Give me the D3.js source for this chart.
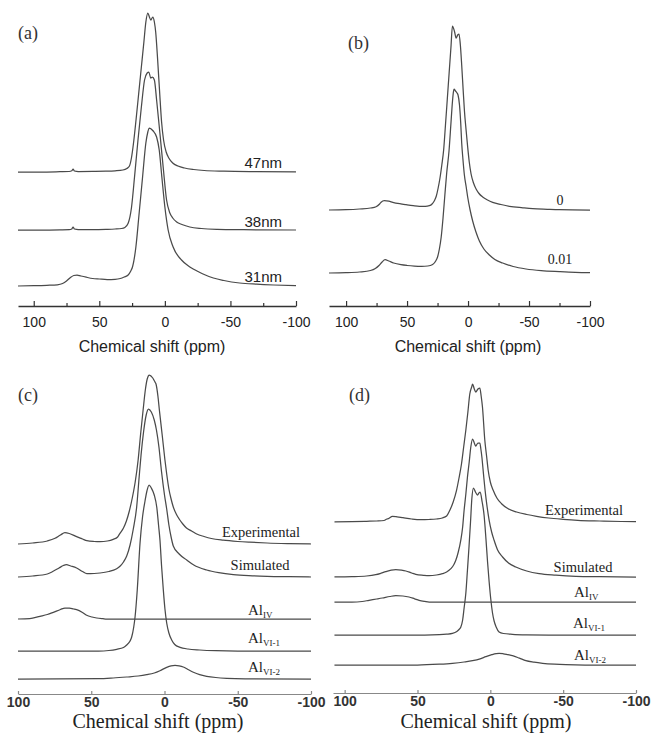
<!DOCTYPE html>
<html>
<head>
<meta charset="utf-8">
<script src="https://cdn.jsdelivr.net/npm/d3@7/dist/d3.min.js"></script>
<style>
  body { margin: 0; background: #fff; }
  svg { display: block; }
</style>
</head>
<body>
<svg id="chart" width="652" height="738"></svg>
<script>
  // ---- data: [ppm, intensity a.u.] ----
  var ppmTicks = [100, 50, 0, -50, -100];
  var ppmMinor = [75, 25, -25, -75];
  var axisTitle = 'Chemical shift (ppm)';

  // (a) crystallite size
  var namesA = ['47nm', '38nm', '31nm'];
  var offsetsA = [134, 76, 20];
  var a47 = [[112,0],[95,0],[80,0.3],[73,0.5],[71,1.2],[70,3],[69,1],[66,0.5],[55,0.6],[45,0.8],[38,1.2],[32,2],[29,3.5],[27,6],[25.5,14],[24,28],[22,52],[20,78],[18,104],[16,130],[14.5,150],[13,159],[11.8,155],[10.7,152],[9.2,155],[8,150],[7,140],[5.5,112],[4,80],[2.5,50],[1,32],[-1,20],[-3,14],[-6,9],[-10,6],[-15,4],[-22,2.5],[-30,1.5],[-45,0.8],[-70,0.3],[-100,0]];
  var a38 = [[112,0],[95,0],[80,0.2],[73,0.4],[71,1],[70,3],[69,1],[66,0.5],[55,0.5],[45,0.7],[38,1],[33,1.5],[30.5,2.5],[28,6.7],[25.5,22],[23,55],[20.5,90],[18,122],[15.5,150],[13.5,157],[12.2,158],[10.8,152],[9.5,153],[8,150],[6.3,130],[3.8,97],[1.3,63],[-1.3,30],[-3.8,17],[-6,12],[-9,8],[-13,5.5],[-19,3],[-28,1.5],[-40,0.7],[-60,0.3],[-100,0]];
  var a31 = [[112,0],[100,0.3],[90,0.7],[82,1.2],[78,2.5],[75,5],[72,8.5],[69.5,10.5],[67,11],[64,10],[60,8.8],[55,7.5],[50,7],[44,6.5],[38,6.7],[34,7.5],[31,9],[28,11],[26,15],[24.7,19],[22.1,39],[19.6,73],[17,109],[14.5,143],[13,154],[12,158],[10.5,157],[8.9,155],[6.3,149],[4.3,136],[2.3,109],[0,79],[-2.5,56],[-6.3,39],[-12.7,26],[-17,21],[-21.6,17],[-26,14],[-30,11.5],[-37,8],[-45,5.5],[-57,3],[-70,1.8],[-83,1],[-100,0.3]];

  // (b) doping
  var namesB = ['0', '0.01'];
  var offsetsB = [96, 33];
  var b0 = [[114,0],[100,0.3],[89,1],[80,2],[75.4,3.3],[72.5,6],[71.3,7.7],[68.6,9.3],[65,8.8],[61.7,7.7],[56,6.3],[50.8,5.3],[45,4.3],[39.9,3.7],[35,3.7],[31.7,4.3],[29.5,6],[27.6,9.3],[26,14],[24.5,22],[23,32],[21.5,45],[20,60],[18.5,85],[17,111],[15.5,137],[14,163],[12.8,184],[11,178],[9.8,172],[8.5,175],[7.4,176],[6.3,165],[5.2,145],[4,120],[3,100],[1.6,80],[0.3,63],[-1,48],[-2.5,36],[-4.5,27],[-6.6,21],[-9,16.5],[-12,13],[-16,10],[-20.2,7.7],[-27,5.5],[-33.9,3.7],[-45,2.2],[-53,1.3],[-65,0.7],[-75,0.3],[-100,0]];
  var b001 = [[114,0],[100,0.3],[89,1],[80,2.5],[76,4.5],[73,7.5],[70.5,11],[68,13.3],[65,12],[61,10],[55,8.3],[50,7.5],[44,6.9],[38,6.7],[33,7],[29,8.5],[26.5,12],[25,16],[23.5,24],[22,36],[20.5,55],[19,78],[17.5,100],[15.6,122],[14,150],[13,168],[12,181],[11.5,184],[10.3,182],[9,180],[8.2,178],[7,168],[6,150],[5.2,130],[4.2,114],[3,98],[1.5,86],[0.3,76],[-1.7,63],[-3.8,52],[-6.5,41],[-9.3,32],[-13,24],[-17.5,18],[-22,13.5],[-28.4,10],[-37,6.5],[-47.5,4],[-60,2.3],[-74.8,1.3],[-88,0.6],[-100,0.3]];

  // (c) fit, first sample
  var namesC = ['Experimental', 'Simulated', 'IV', 'VI-1', 'VI-2'];
  var offsetsC = [150, 117, 75, 43, 15];
  var cExp = [[100,0],[90,1],[80,3],[74.7,5.7],[71,9],[68,11.3],[65,10.5],[60,7.3],[56,5],[53,3.3],[48,2.5],[44,2.3],[39,3],[35,4.7],[32,7],[30.4,10.7],[28,16],[26,23],[24,33],[22,46],[20,62],[18,84],[16.3,110],[14.6,134],[13,155],[11.8,165],[10.4,169],[8,166],[6.5,162],[5.8,160],[4.5,148],[3.5,134],[1.5,108],[-0.3,84],[-1.5,70],[-3,55],[-4.5,45],[-6,37],[-8,30],[-10,25],[-12.5,20],[-15,16],[-18.5,13],[-22,10],[-27,7.5],[-32,5.5],[-40,3.8],[-50,2.5],[-58,1.8],[-70,1],[-85,0.4],[-100,0]];
  var cSim = [[100,0],[90,1],[80,3],[76,5.7],[72,9],[69,11.5],[67,12.3],[64,11],[60,9],[56,5.5],[53,3.3],[48,3.5],[44,4],[38,5.5],[33,8],[30.4,10.7],[28,15],[25.8,21],[23.5,32],[21.3,48],[19,70],[17.3,100],[16,122],[14.3,145],[12.5,162],[11,168],[9,165],[7,157],[5.5,147],[3.8,130],[2,105],[0,82],[-1.5,68],[-3,52],[-4.5,40],[-6,31],[-10,23],[-15.2,17],[-20,12],[-28.8,7],[-37,4.3],[-47,2.3],[-60,1.2],[-70,0.7],[-85,0.3],[-100,0]];
  var cIV = [[100,0],[92,0.3],[85,2.7],[80,4.5],[75.9,6.7],[71,9.5],[68,11],[65,10.8],[62,10],[60,9.3],[56,6.5],[53.1,3.7],[49.5,2],[46.3,1],[42,0.3],[39.5,0],[-100,0]];
  var cVI1 = [[100,0],[45,0],[38,0.5],[32.6,1.7],[28,3.5],[25.8,6],[23.5,10],[22.4,14],[21,24],[20.1,34],[18.6,61],[16.7,108],[15,134],[13.3,150],[12,160],[10.5,166],[9,163],[7,156],[5.3,144],[4,125],[3.1,111],[2,85],[0.8,61],[-0.3,42],[-1.5,28],[-3,18],[-4.9,11],[-7,6.5],[-10.6,3.7],[-16,2],[-24,1],[-35,0.3],[-50,0],[-100,0]];
  var cVI2 = [[100,0],[45,0.3],[35,1],[25.8,2],[18,3],[12.2,4.3],[7,6],[3.1,8.3],[-1.5,11.7],[-4.5,13.2],[-7.2,13.7],[-10,13.2],[-12.8,12],[-16,9.5],[-19.7,6.7],[-24,4.3],[-28.8,2.7],[-35,1.5],[-42.5,0.7],[-55,0.2],[-100,0]];

  // (d) fit, second sample
  var namesD = ['Experimental', 'Simulated', 'IV', 'VI-1', 'VI-2'];
  var offsetsD = [171, 116, 91, 58, 28];
  var dExp = [[107,0],[95,0.3],[85,0.7],[78,1],[73,1.5],[71,3],[70,3.3],[67.2,5.7],[64,5.2],[60,4.3],[54,3],[48,2.3],[42,2.5],[37,3],[33,4],[30,6],[27.8,11.7],[25.5,20],[23.2,31.7],[21.5,44],[19.8,58],[18.3,75],[16.8,92],[15.4,110],[14.1,128],[12.8,135],[12.2,138],[11,133],[10,130],[8.5,133],[7.2,134],[6.3,126],[5.4,115],[3.8,82],[2.5,65],[1.5,52],[0,40],[-1.9,32],[-4.5,24],[-7.7,18.3],[-12,13.5],[-18,10],[-25,7.5],[-31.7,5.7],[-40,4],[-50,2.7],[-60,1.7],[-75,1],[-90,0.5],[-100,0.3]];
  var dSim = [[107,0],[95,0.3],[85,1],[78.7,2.3],[75,3.8],[71.8,5.3],[68,6.8],[64.9,7.3],[61,6.8],[58,6],[54,4],[51.2,2.7],[46,1.7],[42,1.3],[37,2],[32.9,3.3],[30,5],[27.1,8.3],[25,12.5],[23.7,16.7],[22,25],[20.3,36.7],[19,50],[18,66.7],[16.8,83],[15.7,100],[14.5,115],[13.4,130],[12.2,138],[11,134],[10,131],[8.5,134],[7.2,134],[6.5,128],[5.8,120],[4.7,103],[3.6,86.7],[2.2,70],[0.8,56.7],[-0.9,45],[-2.6,36.7],[-5,27],[-8.4,20],[-12.5,14],[-17.5,10],[-25,6],[-33.5,3.3],[-45,1.8],[-58.7,0.7],[-75,0.3],[-100,0]];
  var dIV = [[107,0],[95,0],[88,0.5],[83.3,1.7],[78,3],[74.1,4],[69,5.5],[64.9,6.3],[60,6],[55.8,5],[52,3.2],[48.9,1.7],[45,0.6],[42,0],[-100,0]];
  var dVI1 = [[107,0],[45,0],[35,0.3],[30,0.8],[26,1.6],[23,3.5],[21.5,5.5],[20.3,7.8],[19,15],[18,27],[16.8,42],[15.7,65],[14.6,89],[13.6,113],[12.7,136],[11.6,147],[10.2,143],[8.8,140],[7.8,142],[7,143],[5.6,133],[4.3,120],[3,96],[1.9,73],[0.8,53],[-0.3,36],[-1.5,22],[-2.6,14],[-4,8],[-6,3.1],[-9,1.5],[-15.2,0.7],[-25,0.2],[-40,0],[-100,0]];
  var dVI2 = [[107,0],[50,0],[35,0.8],[26,1.7],[18,3],[12.2,4.3],[7,6.2],[3.1,8.3],[-1,10.3],[-4,11.4],[-6,11.7],[-9,11.2],[-12,10.3],[-15.2,9.3],[-20,6.8],[-24.4,4.3],[-30,2.8],[-35.9,1.7],[-44,0.8],[-51.9,0.3],[-65,0],[-100,0]];

  // ---- layout ----
  var SANS = 'Arial, "Liberation Sans", sans-serif';
  var SERIF = '"Times New Roman", "Liberation Serif", serif';
  var LINE = '#4a4a4a';

  var panels = [
    { tag: '(a)', tagX: 18, tagY: 39, xDomain: [112, -100], xRange: [18, 296], axisY: 306,
      series: [a47, a38, a31], offsets: offsetsA, names: namesA, style: 'sans',
      labels: [{x: 282, dy: -4, anchor: 'end'}, {x: 282, dy: -3, anchor: 'end'}, {x: 282, dy: -4, anchor: 'end'}],
      titleX: 152 },
    { tag: '(b)', tagX: 348, tagY: 49, xDomain: [114, -100], xRange: [329, 590], axisY: 306,
      series: [b0, b001], offsets: offsetsB, names: namesB, style: 'sans', labelFont: 'serif',
      labels: [{x: 560, dy: -5, anchor: 'middle'}, {x: 560, dy: -9, anchor: 'middle'}],
      titleX: 468 },
    { tag: '(c)', tagX: 18, tagY: 401, xDomain: [100, -100], xRange: [18, 311], axisY: 694,
      series: [cExp, cSim, cIV, cVI1, cVI2], offsets: offsetsC, names: namesC, style: 'serif',
      labels: [{x: 261, dy: -7, anchor: 'middle'}, {x: 260, dy: -7, anchor: 'middle'},
               {x: 248, dy: -4, sub: true}, {x: 248, dy: -8, sub: true}, {x: 248, dy: -7, sub: true}],
      titleX: 158 },
    { tag: '(d)', tagX: 349, tagY: 401, xDomain: [108, -100], xRange: [333, 636], axisY: 693,
      series: [dExp, dSim, dIV, dVI1, dVI2], offsets: offsetsD, names: namesD, style: 'serif',
      labels: [{x: 584, dy: -7, anchor: 'middle'}, {x: 583, dy: -5, anchor: 'middle'},
               {x: 574, dy: -5, sub: true}, {x: 573, dy: -7, sub: true}, {x: 574, dy: -5, sub: true}],
      titleX: 486 }
  ];

  var svg = d3.select('#chart');

  panels.forEach(function(p) {
    var x = d3.scaleLinear().domain(p.xDomain).range(p.xRange);
    var y = d3.scaleLinear().domain([0, 300]).range([p.axisY, p.axisY - 300]);
    var g = svg.append('g');
    var sans = p.style === 'sans';

    var line = d3.line()
      .x(function(d) { return x(d[0]); })
      .y(function(d) { return y(d[1]); })
      .curve(d3.curveMonotoneX);

    // spectra, each lifted by its stacking offset
    p.series.forEach(function(s, i) {
      g.append('path')
        .datum(s.map(function(d) { return [d[0], d[1] + p.offsets[i]]; }))
        .attr('d', line)
        .attr('fill', 'none')
        .attr('stroke', LINE)
        .attr('stroke-width', 1.25)
        .attr('stroke-linejoin', 'round');
    });

    // curve labels
    p.names.forEach(function(name, i) {
      var l = p.labels[i];
      var ty = y(p.offsets[i]) + l.dy;
      if (l.sub) {
        var t = g.append('text')
          .attr('x', l.x).attr('y', ty)
          .attr('font-family', SERIF).attr('fill', '#222');
        t.append('tspan').attr('font-size', 15).text('Al');
        t.append('tspan').attr('font-size', 9).attr('dy', 3).text(name);
      } else {
        g.append('text')
          .attr('x', l.x).attr('y', ty)
          .attr('text-anchor', l.anchor)
          .attr('font-family', (sans && !p.labelFont) ? SANS : SERIF)
          .attr('font-size', sans ? (p.labelFont ? 14 : 15) : 14.5)
          .attr('fill', '#222')
          .text(name);
      }
    });

    // x axis
    var axis = d3.axisBottom(x)
      .tickValues(ppmTicks)
      .tickFormat(function(d) { return String(d); })
      .tickSizeInner(sans ? -5 : -3)
      .tickSizeOuter(0)
      .tickPadding(sans ? 11 : 3);
    var ax = g.append('g')
      .attr('transform', 'translate(0,' + p.axisY + ')')
      .call(axis);
    ax.select('.domain').attr('stroke', sans ? '#333' : '#888').attr('stroke-width', sans ? 1.3 : 1.1);
    ax.selectAll('.tick line').attr('stroke', sans ? '#333' : '#888').attr('stroke-width', 1.2);
    ax.selectAll('.tick text')
      .attr('font-family', SANS)
      .attr('font-size', 14)
      .attr('font-weight', sans ? 'normal' : 'bold')
      .attr('fill', sans ? '#222' : '#333');

    if (sans) {
      var minor = d3.axisBottom(x).tickValues(ppmMinor).tickFormat('').tickSizeInner(-3).tickSizeOuter(0);
      var mx = g.append('g')
        .attr('transform', 'translate(0,' + p.axisY + ')')
        .call(minor);
      mx.select('.domain').remove();
      mx.selectAll('.tick line').attr('stroke', '#333').attr('stroke-width', 1.2);
    }

    // axis title
    g.append('text')
      .attr('x', p.titleX)
      .attr('y', sans ? 352 : 728)
      .attr('text-anchor', 'middle')
      .attr('font-family', sans ? SANS : SERIF)
      .attr('font-size', sans ? 16 : 20)
      .attr('fill', '#222')
      .text(axisTitle);

    // panel tag
    g.append('text')
      .attr('x', p.tagX)
      .attr('y', p.tagY)
      .attr('font-family', SERIF)
      .attr('font-size', 18)
      .attr('fill', '#333')
      .text(p.tag);
  });
</script>
</body>
</html>
